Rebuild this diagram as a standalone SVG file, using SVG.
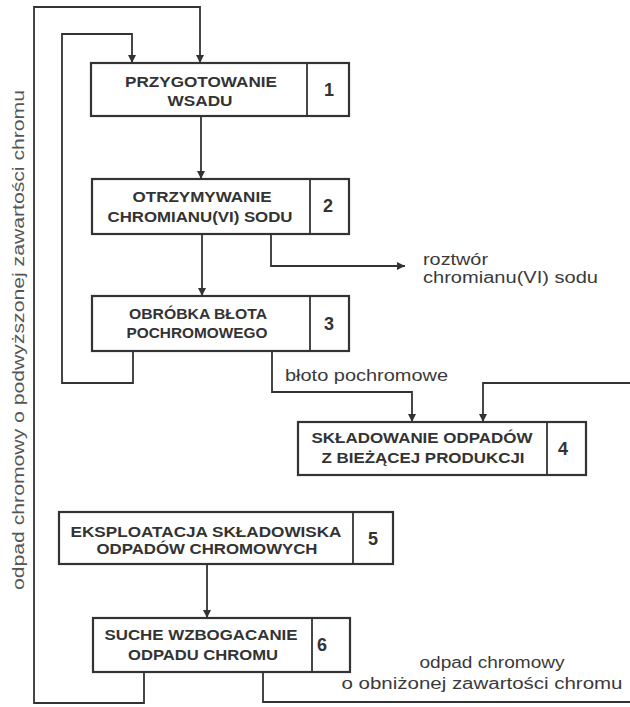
<svg xmlns="http://www.w3.org/2000/svg" width="630" height="707" viewBox="0 0 630 707">
<style>
.box{fill:#fff;stroke:#333;stroke-width:2.2}
.ln{fill:none;stroke:#333;stroke-width:1.8}
.bt{font-family:"Liberation Sans",Arial,sans-serif;font-weight:bold;font-size:14.5px;fill:#333;text-anchor:middle}
.num{font-family:"Liberation Sans",Arial,sans-serif;font-weight:bold;font-size:18px;fill:#333;text-anchor:middle}
.lb{font-family:"Liberation Sans",Arial,sans-serif;font-size:16px;fill:#3a3a3a}
</style>
<defs>
<marker id="ah" viewBox="0 0 10 10" refX="10" refY="5" markerWidth="8" markerHeight="8" markerUnits="userSpaceOnUse" orient="auto">
<path d="M0,0 L10,5 L0,10 z" fill="#333"/>
</marker>
</defs>
<rect width="630" height="707" fill="#fff"/>
<g id="connectors">
<path class="ln" d="M144,672 V703 H34 V7 H200 V63" marker-end="url(#ah)"/>
<path class="ln" d="M133,351 V383 H62 V34 H132 V63" marker-end="url(#ah)"/>
<path class="ln" d="M201,116 V179" marker-end="url(#ah)"/>
<path class="ln" d="M202,234 V296" marker-end="url(#ah)"/>
<path class="ln" d="M271,234 V266 H405" marker-end="url(#ah)"/>
<path class="ln" d="M272,351 V392 H412 V422" marker-end="url(#ah)"/>
<path class="ln" d="M630,383 H483 V422" marker-end="url(#ah)"/>
<path class="ln" d="M207,564 V618" marker-end="url(#ah)"/>
<path class="ln" d="M263,672 V702 H630"/>
</g>
<g id="n1">
<rect class="box" x="91" y="63" width="258" height="53"/>
<line class="ln" x1="307" y1="63" x2="307" y2="116" stroke-width="2"/>
<text class="bt" x="201" y="87" textLength="152" lengthAdjust="spacingAndGlyphs">PRZYGOTOWANIE</text>
<text class="bt" x="200" y="106" textLength="65" lengthAdjust="spacingAndGlyphs">WSADU</text>
<text class="num" x="329" y="96">1</text>
</g>
<g id="n2">
<rect class="box" x="92" y="179" width="257" height="55"/>
<line class="ln" x1="310" y1="179" x2="310" y2="234" stroke-width="2"/>
<text class="bt" x="202" y="202" textLength="139" lengthAdjust="spacingAndGlyphs">OTRZYMYWANIE</text>
<text class="bt" x="200" y="222" textLength="185" lengthAdjust="spacingAndGlyphs">CHROMIANU(VI) SODU</text>
<text class="num" x="328" y="212">2</text>
</g>
<g id="n3">
<rect class="box" x="92" y="296" width="257" height="55"/>
<line class="ln" x1="310" y1="296" x2="310" y2="351" stroke-width="2"/>
<text class="bt" x="198" y="319" textLength="138" lengthAdjust="spacingAndGlyphs">OBRÓBKA BŁOTA</text>
<text class="bt" x="197" y="338" textLength="141" lengthAdjust="spacingAndGlyphs">POCHROMOWEGO</text>
<text class="num" x="329" y="330">3</text>
</g>
<g id="n4">
<rect class="box" x="298" y="422" width="288" height="53"/>
<line class="ln" x1="547" y1="422" x2="547" y2="475" stroke-width="2"/>
<text class="bt" x="422" y="443" textLength="221" lengthAdjust="spacingAndGlyphs">SKŁADOWANIE ODPADÓW</text>
<text class="bt" x="423" y="463" textLength="203" lengthAdjust="spacingAndGlyphs">Z BIEŻĄCEJ PRODUKCJI</text>
<text class="num" x="563" y="455">4</text>
</g>
<g id="n5">
<rect class="box" x="59" y="512" width="334" height="52"/>
<line class="ln" x1="353" y1="512" x2="353" y2="564" stroke-width="2"/>
<text class="bt" x="206" y="537" textLength="271" lengthAdjust="spacingAndGlyphs">EKSPLOATACJA SKŁADOWISKA</text>
<text class="bt" x="207" y="554" textLength="221" lengthAdjust="spacingAndGlyphs">ODPADÓW CHROMOWYCH</text>
<text class="num" x="373" y="545">5</text>
</g>
<g id="n6">
<rect class="box" x="93" y="618" width="257" height="54"/>
<line class="ln" x1="312" y1="618" x2="312" y2="672" stroke-width="2"/>
<text class="bt" x="201" y="640" textLength="193" lengthAdjust="spacingAndGlyphs">SUCHE WZBOGACANIE</text>
<text class="bt" x="203" y="660" textLength="150" lengthAdjust="spacingAndGlyphs">ODPADU CHROMU</text>
<text class="num" x="322" y="651">6</text>
</g>
<g id="labels">
<text class="lb" x="423" y="265" textLength="65" lengthAdjust="spacingAndGlyphs">roztwór</text>
<text class="lb" x="423" y="283" textLength="175" lengthAdjust="spacingAndGlyphs">chromianu(VI) sodu</text>
<text class="lb" x="285" y="381" textLength="163" lengthAdjust="spacingAndGlyphs">błoto pochromowe</text>
<text class="lb" x="492" y="668" text-anchor="middle" textLength="145" lengthAdjust="spacingAndGlyphs">odpad chromowy</text>
<text class="lb" x="482" y="689" text-anchor="middle" textLength="281" lengthAdjust="spacingAndGlyphs">o obniżonej zawartości chromu</text>
<text class="lb" transform="translate(24,340) rotate(-90)" text-anchor="middle" textLength="500" lengthAdjust="spacingAndGlyphs" fill="#555" style="fill:#555">odpad chromowy o podwyższonej zawartości chromu</text>
</g>
</svg>
